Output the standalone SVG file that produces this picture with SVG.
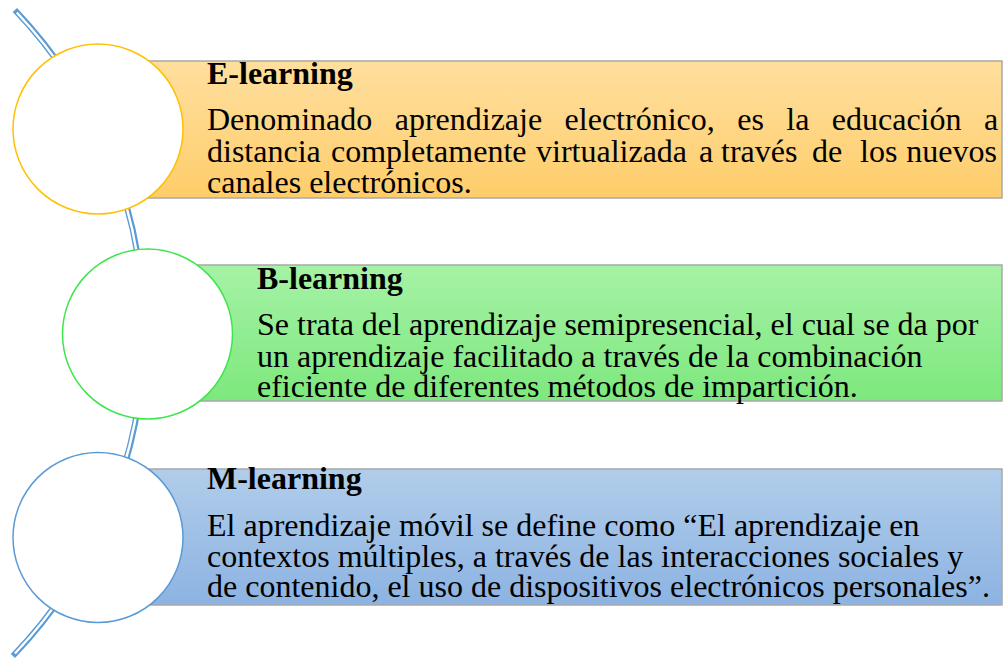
<svg xmlns="http://www.w3.org/2000/svg" width="1003" height="659" viewBox="0 0 1003 659">
<style>
.t{font-family:"Liberation Serif","Times New Roman",serif;font-size:32px;fill:#000}
.h{font-weight:bold}
</style>
<defs>
<linearGradient id="gE" x1="0" y1="0" x2="0" y2="1"><stop offset="0" stop-color="#ffdf9f"/><stop offset="1" stop-color="#fecd6a"/></linearGradient>
<linearGradient id="gB" x1="0" y1="0" x2="0" y2="1"><stop offset="0" stop-color="#a6f2a6"/><stop offset="1" stop-color="#7de87d"/></linearGradient>
<linearGradient id="gM" x1="0" y1="0" x2="0" y2="1"><stop offset="0" stop-color="#b1cdea"/><stop offset="1" stop-color="#8cb3e2"/></linearGradient>
</defs>
<rect width="1003" height="659" fill="#fff"/>
<g id="connectors">
<path d="M14.9,10 A466,466 0 0 1 12.9,656" fill="none" stroke="#5b9bd5" stroke-width="6"/>
<path d="M16.8,12.5 A466,466 0 0 1 14.9,653.5" fill="none" stroke="#fff" stroke-width="2.4"/>
</g>
<g id="node-e">
<rect x="100" y="61" width="902" height="137" fill="url(#gE)" stroke="#a8a8a8" stroke-width="1.5"/>
<circle cx="98" cy="129" r="85" fill="#fff" stroke="#ffc000" stroke-width="1.5"/>
<text class="t h" x="207" y="84">E-learning</text>
<text class="t" y="130"><tspan x="207">Denominado</tspan><tspan x="394.7">aprendizaje</tspan><tspan x="564.6">electrónico,</tspan><tspan x="737.2">es</tspan><tspan x="786.3">la</tspan><tspan x="831.8">educación</tspan><tspan x="984">a</tspan></text>
<text class="t" y="161.5"><tspan x="207">distancia</tspan><tspan x="331">completamente</tspan><tspan x="536">virtualizada</tspan><tspan x="699">a</tspan><tspan x="721">través</tspan><tspan x="812">de</tspan><tspan x="860">los</tspan><tspan x="906.3">nuevos</tspan></text>
<text class="t" x="207" y="192.5">canales electrónicos.</text>
</g>
<g id="node-b">
<rect x="150" y="265" width="852" height="136" fill="url(#gB)" stroke="#a8a8a8" stroke-width="1.5"/>
<circle cx="147.5" cy="334" r="85" fill="#fff" stroke="#3de64b" stroke-width="1.5"/>
<text class="t h" x="257" y="289">B-learning</text>
<text class="t" x="257" y="335">Se trata del aprendizaje semipresencial, el cual se da por</text>
<text class="t" x="257" y="366.5">un aprendizaje facilitado a través de la combinación</text>
<text class="t" x="257" y="397">eficiente de diferentes métodos de impartición.</text>
</g>
<g id="node-m">
<rect x="100" y="469" width="902" height="136" fill="url(#gM)" stroke="#a8a8a8" stroke-width="1.5"/>
<circle cx="98" cy="537.5" r="85" fill="#fff" stroke="#5b9bd5" stroke-width="1.5"/>
<text class="t h" x="207" y="489">M-learning</text>
<text class="t" x="207" y="536">El aprendizaje móvil se define como “El aprendizaje en</text>
<text class="t" x="207" y="566.5">contextos múltiples, a través de las interacciones sociales y</text>
<text class="t" x="207" y="597">de contenido, el uso de dispositivos electrónicos personales”.</text>
</g>
</svg>
